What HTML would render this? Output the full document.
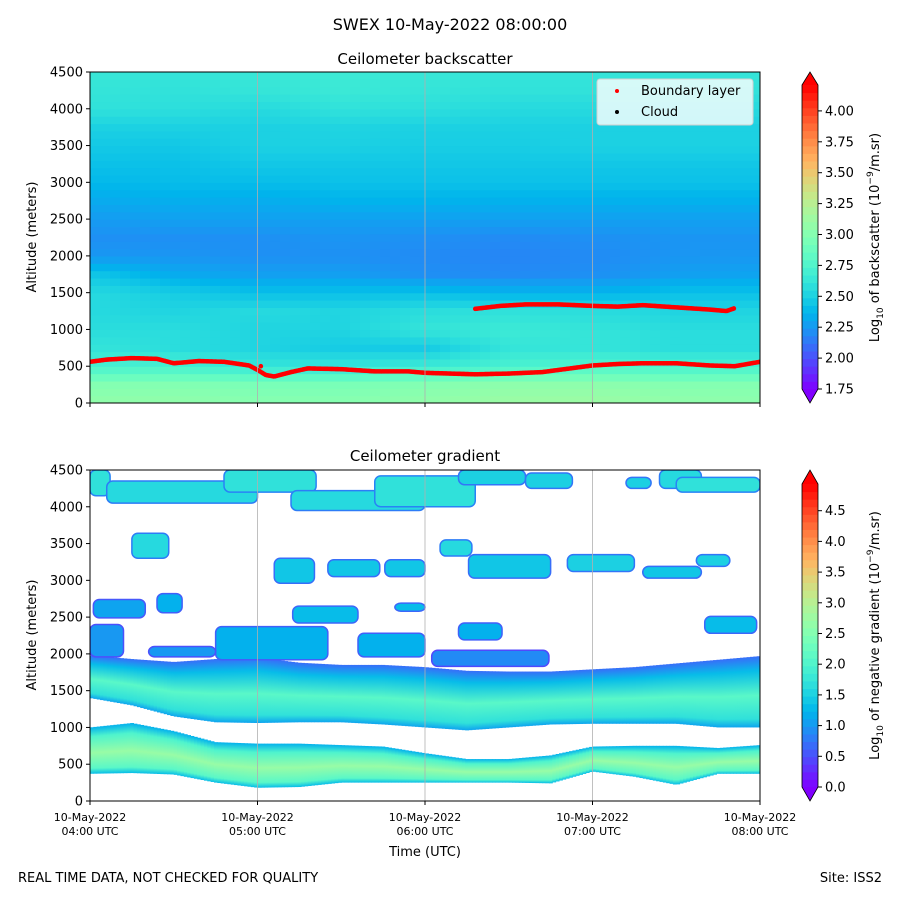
<!DOCTYPE html>
<html><head><meta charset="utf-8"><title>SWEX Ceilometer</title>
<style>
html,body{margin:0;padding:0;background:#fff;}
svg{display:block;font-family:"DejaVu Sans","Liberation Sans",sans-serif;}
</style></head>
<body>
<svg id="fig" width="900" height="900" viewBox="0 0 900 900" xmlns="http://www.w3.org/2000/svg">
<defs id="defs"></defs>
<text x="450" y="30" text-anchor="middle" font-size="16">SWEX 10-May-2022 08:00:00</text>
<text x="425" y="64" text-anchor="middle" font-size="15">Ceilometer backscatter</text>
<text x="425" y="461" text-anchor="middle" font-size="15">Ceilometer gradient</text>
<g id="top-plot"></g>
<g id="bot-plot"></g>
<g id="cbars"></g>
<text x="425" y="856" text-anchor="middle" font-size="13">Time (UTC)</text>
<text x="18" y="882" font-size="13">REAL TIME DATA, NOT CHECKED FOR QUALITY</text>
<text x="882" y="882" text-anchor="end" font-size="13">Site: ISS2</text>
</svg>
<script>
// ---------- data ----------
const timeTicks = [4, 5, 6, 7, 8];
const timeTickLabels1 = ["10-May-2022","10-May-2022","10-May-2022","10-May-2022","10-May-2022"];
const timeTickLabels2 = ["04:00 UTC","05:00 UTC","06:00 UTC","07:00 UTC","08:00 UTC"];
const altTicks = [0, 500, 1000, 1500, 2000, 2500, 3000, 3500, 4000, 4500];
const topCbarTicks = [1.75, 2.00, 2.25, 2.50, 2.75, 3.00, 3.25, 3.50, 3.75, 4.00];
const botCbarTicks = [0.0, 0.5, 1.0, 1.5, 2.0, 2.5, 3.0, 3.5, 4.0, 4.5];

// backscatter grid: columns centred every 30 min, rows centred every 250 m (bottom to top)
const bsColTimes = [4.0, 4.5, 5.0, 5.5, 6.0, 6.5, 7.0, 7.5, 8.0];
const bsRowAlts = [0,250,500,750,1000,1250,1500,1750,2000,2250,2500,2750,3000,3250,3500,3750,4000,4250,4500];
const bsValues = [
 [3.07,3.07,3.02,3.02,3.07,3.12,3.12,3.07,3.05],
 [3.0,3.0,2.95,2.95,3.0,3.05,3.05,3.0,3.0],
 [2.72,2.72,2.62,2.62,2.66,2.72,2.76,2.72,2.72],
 [2.62,2.57,2.52,2.47,2.47,2.62,2.62,2.57,2.57],
 [2.57,2.57,2.52,2.52,2.62,2.66,2.62,2.57,2.57],
 [2.55,2.52,2.55,2.52,2.57,2.6,2.57,2.52,2.52],
 [2.55,2.48,2.42,2.42,2.42,2.36,2.36,2.42,2.42],
 [2.45,2.33,2.28,2.28,2.22,2.2,2.22,2.28,2.3],
 [2.25,2.24,2.22,2.22,2.2,2.18,2.2,2.24,2.25],
 [2.22,2.22,2.22,2.24,2.22,2.2,2.22,2.24,2.24],
 [2.26,2.28,2.28,2.28,2.28,2.28,2.28,2.28,2.28],
 [2.32,2.34,2.33,2.36,2.36,2.35,2.35,2.35,2.35],
 [2.38,2.4,2.4,2.42,2.42,2.42,2.42,2.42,2.42],
 [2.42,2.42,2.45,2.45,2.45,2.45,2.45,2.45,2.45],
 [2.46,2.45,2.5,2.5,2.48,2.48,2.5,2.5,2.5],
 [2.5,2.5,2.5,2.52,2.5,2.5,2.5,2.5,2.5],
 [2.6,2.58,2.55,2.6,2.58,2.55,2.55,2.55,2.55],
 [2.62,2.6,2.62,2.65,2.62,2.6,2.6,2.6,2.6],
 [2.64,2.62,2.64,2.66,2.64,2.62,2.62,2.62,2.62]
];

// boundary layer detections
const blTimes = [4.0,4.1,4.25,4.4,4.5,4.65,4.8,4.95,5.0,5.05,5.1,5.2,5.3,5.5,5.7,5.9,6.0,6.15,6.3,6.5,6.7,6.9,7.0,7.15,7.3,7.5,7.7,7.85,8.0];
const blAlts  = [560,590,610,600,540,570,560,510,450,380,360,420,470,460,430,430,410,400,390,400,420,480,510,530,540,540,510,500,560];
const bl2Times = [6.3,6.45,6.6,6.8,7.0,7.15,7.3,7.5,7.7,7.8,7.85];
const bl2Alts  = [1280,1320,1340,1340,1320,1310,1330,1300,1270,1250,1290];

// gradient bands (times every 15 min)
const gbTimes = [4,4.25,4.5,4.75,5,5.25,5.5,5.75,6,6.25,6.5,6.75,7,7.25,7.5,7.75,8];
const lowBandBottom = [370,380,360,250,180,190,250,250,250,250,250,240,400,330,220,370,370];
const lowBandTop    = [1000,1060,950,800,780,780,760,740,650,570,570,620,740,750,750,720,760];
const upBandBottom  = [1400,1300,1150,1070,1060,1070,1070,1040,1000,960,1000,1040,1050,1050,1050,1000,1000];
const upBandTop     = [1980,1930,1890,1930,1950,1880,1850,1850,1820,1770,1760,1760,1790,1820,1870,1920,1970];
const lowBandStops = [1.2, 2.0, 2.7, 2.1, 1.3];
const upBandStops  = [0.7, 1.3, 2.1, 1.7, 1.1];

// cloud/aerosol gradient patches: [t0, t1, a0, a1, value]
const gradPatches = [
 [4.0,4.12,4150,4500,1.7],[4.1,5.0,4050,4350,1.6],[4.8,5.35,4200,4500,1.7],[5.2,6.0,3950,4220,1.6],
 [5.7,6.3,4000,4420,1.7],[6.2,6.6,4300,4500,1.5],[6.6,6.88,4250,4460,1.5],[7.2,7.35,4250,4400,1.5],
 [7.4,7.65,4250,4500,1.6],[7.5,8.0,4200,4400,1.7],
 [4.25,4.47,3300,3640,1.6],[5.1,5.34,2960,3300,1.4],[5.42,5.73,3050,3280,1.4],[5.76,6.0,3050,3280,1.4],
 [6.09,6.28,3330,3550,1.6],[6.26,6.75,3030,3350,1.4],[6.85,7.25,3120,3350,1.5],[7.3,7.65,3030,3190,1.4],
 [7.62,7.82,3190,3350,1.5],[4.02,4.33,2490,2740,1.1],[5.21,5.6,2420,2650,1.3],[5.82,6.0,2580,2690,1.3],
 [5.6,6.0,1960,2280,1.2],[6.2,6.46,2190,2420,1.2],[7.67,7.98,2280,2510,1.3],[4.75,5.42,1920,2370,1.2],
 [4.0,4.2,1960,2400,1.0],[4.35,4.75,1960,2100,1.0],[6.04,6.74,1830,2050,0.9],[4.4,4.55,2560,2820,1.2]
];

// ---------- scales ----------
const X0 = 90, X1 = 760;
function xs(t){ return X0 + (t-4)/4*(X1-X0); }
function yTop(a){ return 403 - a/4500*331; }
function yBot(a){ return 801 - a/4500*331; }
function rainbow(x){
  x = Math.max(0, Math.min(1, x));
  const r = Math.min(1, Math.abs(2*x-0.5));
  const g = Math.sin(Math.PI*x);
  const b = Math.cos(Math.PI*x/2);
  return "rgb("+Math.round(r*255)+","+Math.round(g*255)+","+Math.round(b*255)+")";
}
function cTop(v){ return rainbow((v-1.75)/(4.21-1.75)); }
function cBot(v){ return rainbow(v/4.93); }

const NS = "http://www.w3.org/2000/svg";
function mk(tag, attrs, parent){
  const e = document.createElementNS(NS, tag);
  for (const k in attrs) e.setAttribute(k, attrs[k]);
  parent.appendChild(e);
  return e;
}
const defs = document.getElementById('defs');
const topG = document.getElementById('top-plot');
const botG = document.getElementById('bot-plot');
const cbG = document.getElementById('cbars');

const cpt = mk('clipPath',{id:'clipTop'},defs);
mk('rect',{x:X0,y:72,width:X1-X0,height:331},cpt);
const cpb = mk('clipPath',{id:'clipBot'},defs);
mk('rect',{x:X0,y:470,width:X1-X0,height:331},cpb);

function interp(arrT, arrV, t){
  if (t<=arrT[0]) return arrV[0];
  for (let i=0;i<arrT.length-1;i++){
    if (t>=arrT[i] && t<=arrT[i+1]){
      const f=(t-arrT[i])/(arrT[i+1]-arrT[i]);
      return arrV[i]+(arrV[i+1]-arrV[i])*f;
    }
  }
  return arrV[arrV.length-1];
}

// ---------- top heatmap (bilinear shading of grid) ----------
const hm = mk('g',{'clip-path':'url(#clipTop)'},topG);


const nT = 67, nA = 45;
for (let i=0;i<nT;i++){
  const t0 = 4 + 4*i/nT, t1 = 4 + 4*(i+1)/nT, tm = (t0+t1)/2;
  for (let j=0;j<nA;j++){
    const a0 = 4500*j/nA, a1 = 4500*(j+1)/nA, am = (a0+a1)/2;
    const colVals = bsValues.map(row => interp(bsColTimes, row, tm));
    const v = interp(bsRowAlts, colVals, am);
    const r = mk('rect',{x:xs(t0), y:yTop(a1), width:xs(t1)-xs(t0)+0.6, height:yTop(a0)-yTop(a1)+0.6, fill:cTop(v)}, hm);
    
    
  }
}

// ---------- bottom bands ----------
const bg = mk('g',{'clip-path':'url(#clipBot)'},botG);


function makeGrad(id, stops){
  const lg = mk('linearGradient',{id:id,x1:0,y1:0,x2:0,y2:1},defs);
  const pos = [0,0.2,0.55,0.88,1];
  stops.forEach((v,i)=>mk('stop',{offset:pos[i],'stop-color':cBot(v)},lg));
}
makeGrad('gLow', lowBandStops);
makeGrad('gUp', upBandStops);
function drawBand(bottoms, tops, gid, name){
  const step = 0.02;
  for (let t=4; t<8-1e-9; t+=step){
    const tm = t+step/2;
    const b = interp(gbTimes,bottoms,tm), tp = interp(gbTimes,tops,tm);
    const r = mk('rect',{x:xs(t), y:yBot(tp), width:xs(t+step)-xs(t)+0.5, height:yBot(b)-yBot(tp), fill:'url(#'+gid+')'}, bg);
    
    
  }
}
drawBand(lowBandBottom, lowBandTop, 'gLow', 'lower-band-strip');
drawBand(upBandBottom, upBandTop, 'gUp', 'upper-band-strip');
gradPatches.forEach(p => {
  const r = mk('rect',{x:xs(p[0]), y:yBot(p[3]), width:xs(p[1])-xs(p[0]), height:yBot(p[2])-yBot(p[3]), rx:6, fill:cBot(p[4]), stroke:cBot(p[4]*0.5), 'stroke-width':1.5}, bg);
  
  
});

// ---------- axes ----------
function axes(g, yfn, top, showLabels){
  timeTicks.forEach(t => {
    if (t>4 && t<8){
      const l = mk('line',{x1:xs(t),x2:xs(t),y1:top,y2:top+331,stroke:'#b0b0b0','stroke-width':0.8},g);
      
      
    }
  });
  const fr = mk('rect',{x:X0,y:top,width:X1-X0,height:331,fill:'none',stroke:'#000','stroke-width':1},g);
  
  
  altTicks.forEach(a => {
    mk('line',{x1:X0-4,x2:X0,y1:yfn(a),y2:yfn(a),stroke:'#000'},g);
    const tx = mk('text',{x:X0-7,y:yfn(a)+4.5,'text-anchor':'end','font-size':13},g);
    tx.textContent = a;
    
    
  });
  timeTicks.forEach((t,i) => {
    mk('line',{x1:xs(t),x2:xs(t),y1:top+331,y2:top+335,stroke:'#000'},g);
    if (showLabels){
      const t1 = mk('text',{x:xs(t),y:top+351,'text-anchor':'middle','font-size':11},g);
      t1.textContent = timeTickLabels1[i];
      
      
      const t2 = mk('text',{x:xs(t),y:top+365,'text-anchor':'middle','font-size':11},g);
      t2.textContent = timeTickLabels2[i];
      
      
    }
  });
  const yl = mk('text',{x:0,y:0,'text-anchor':'middle','font-size':13,transform:'translate(36,'+(top+165)+') rotate(-90)'},g);
  yl.textContent = 'Altitude (meters)';
  
  
}

// boundary layer markers
const blG = mk('g',{'clip-path':'url(#clipTop)'},topG);


function blLine(ts, as){
  const step = 0.008;
  for (let t=ts[0]; t<=ts[ts.length-1]+1e-9; t+=step){
    const c = mk('circle',{cx:xs(t), cy:yTop(interp(ts,as,t)), r:2.3, fill:'#ff0000'},blG);
    
    
  }
}
blLine(blTimes, blAlts);
blLine(bl2Times, bl2Alts);
const stray = mk('circle',{cx:xs(5.02), cy:yTop(500), r:2.3, fill:'#ff0000'},blG);



axes(topG, yTop, 72, false);
axes(botG, yBot, 470, true);

// legend
const lg = mk('g',{},topG);


mk('rect',{x:597,y:79,width:156,height:46,rx:3,fill:'rgba(255,255,255,0.8)',stroke:'#d0d0d0'},lg);
const le1 = mk('circle',{cx:617,cy:91,r:2,fill:'#ff0000'},lg);


const lt1 = mk('text',{x:641,y:95,'font-size':13},lg); lt1.textContent='Boundary layer';


const le2 = mk('circle',{cx:617,cy:112,r:2,fill:'#000'},lg);


const lt2 = mk('text',{x:641,y:116,'font-size':13},lg); lt2.textContent='Cloud';



// ---------- colorbars ----------
function cbar(bodyTop, bodyBot, tipTop, tipBot, vAtBot, pxPerUnit, cfn, vmaxBody, ticks, fmt, labelMain){
  const g = mk('g',{},cbG);
  
  
  const x0 = 802, x1 = 818;
  const n = 40;
  for (let i=0;i<n;i++){
    const v = vAtBot + (vmaxBody-vAtBot)*(i+0.5)/n;
    const yb = bodyBot - (bodyBot-bodyTop)*i/n, yt = bodyBot - (bodyBot-bodyTop)*(i+1)/n;
    mk('rect',{x:x0,y:yt,width:x1-x0,height:yb-yt+0.5,fill:cfn(v)},g);
  }
  mk('polygon',{points:x0+','+bodyTop+' '+x1+','+bodyTop+' '+(x0+x1)/2+','+tipTop,fill:cfn(99)},g);
  mk('polygon',{points:x0+','+bodyBot+' '+x1+','+bodyBot+' '+(x0+x1)/2+','+tipBot,fill:cfn(-99)},g);
  mk('polygon',{points:x0+','+bodyTop+' '+(x0+x1)/2+','+tipTop+' '+x1+','+bodyTop+' '+x1+','+bodyBot+' '+(x0+x1)/2+','+tipBot+' '+x0+','+bodyBot,fill:'none',stroke:'#000','stroke-width':0.8},g);
  ticks.forEach(v => {
    const y = bodyBot - (v-vAtBot)*pxPerUnit;
    mk('line',{x1:x1,x2:x1+4,y1:y,y2:y,stroke:'#000'},g);
    const t = mk('text',{x:x1+7,y:y+4.5,'font-size':13},g);
    t.textContent = v.toFixed(fmt);
    
    
  });
  const mid = (tipTop+tipBot)/2;
  const lab = mk('text',{'text-anchor':'middle','font-size':13,transform:'translate(879,'+mid+') rotate(-90)'},g);
  
  
  lab.innerHTML = 'Log<tspan font-size="9" dy="4">10</tspan><tspan dy="-4"> '+labelMain+' (10</tspan><tspan font-size="9" dy="-6">−9</tspan><tspan dy="6">/m.sr)</tspan>';
}
cbar(85, 389, 72, 403, 1.75, 123.6, cTop, 4.21, topCbarTicks, 2, 'of backscatter');
cbar(484, 787, 470, 801, 0, 61.4, cBot, 4.93, botCbarTicks, 1, 'of negative gradient');
</script>
</body></html>
